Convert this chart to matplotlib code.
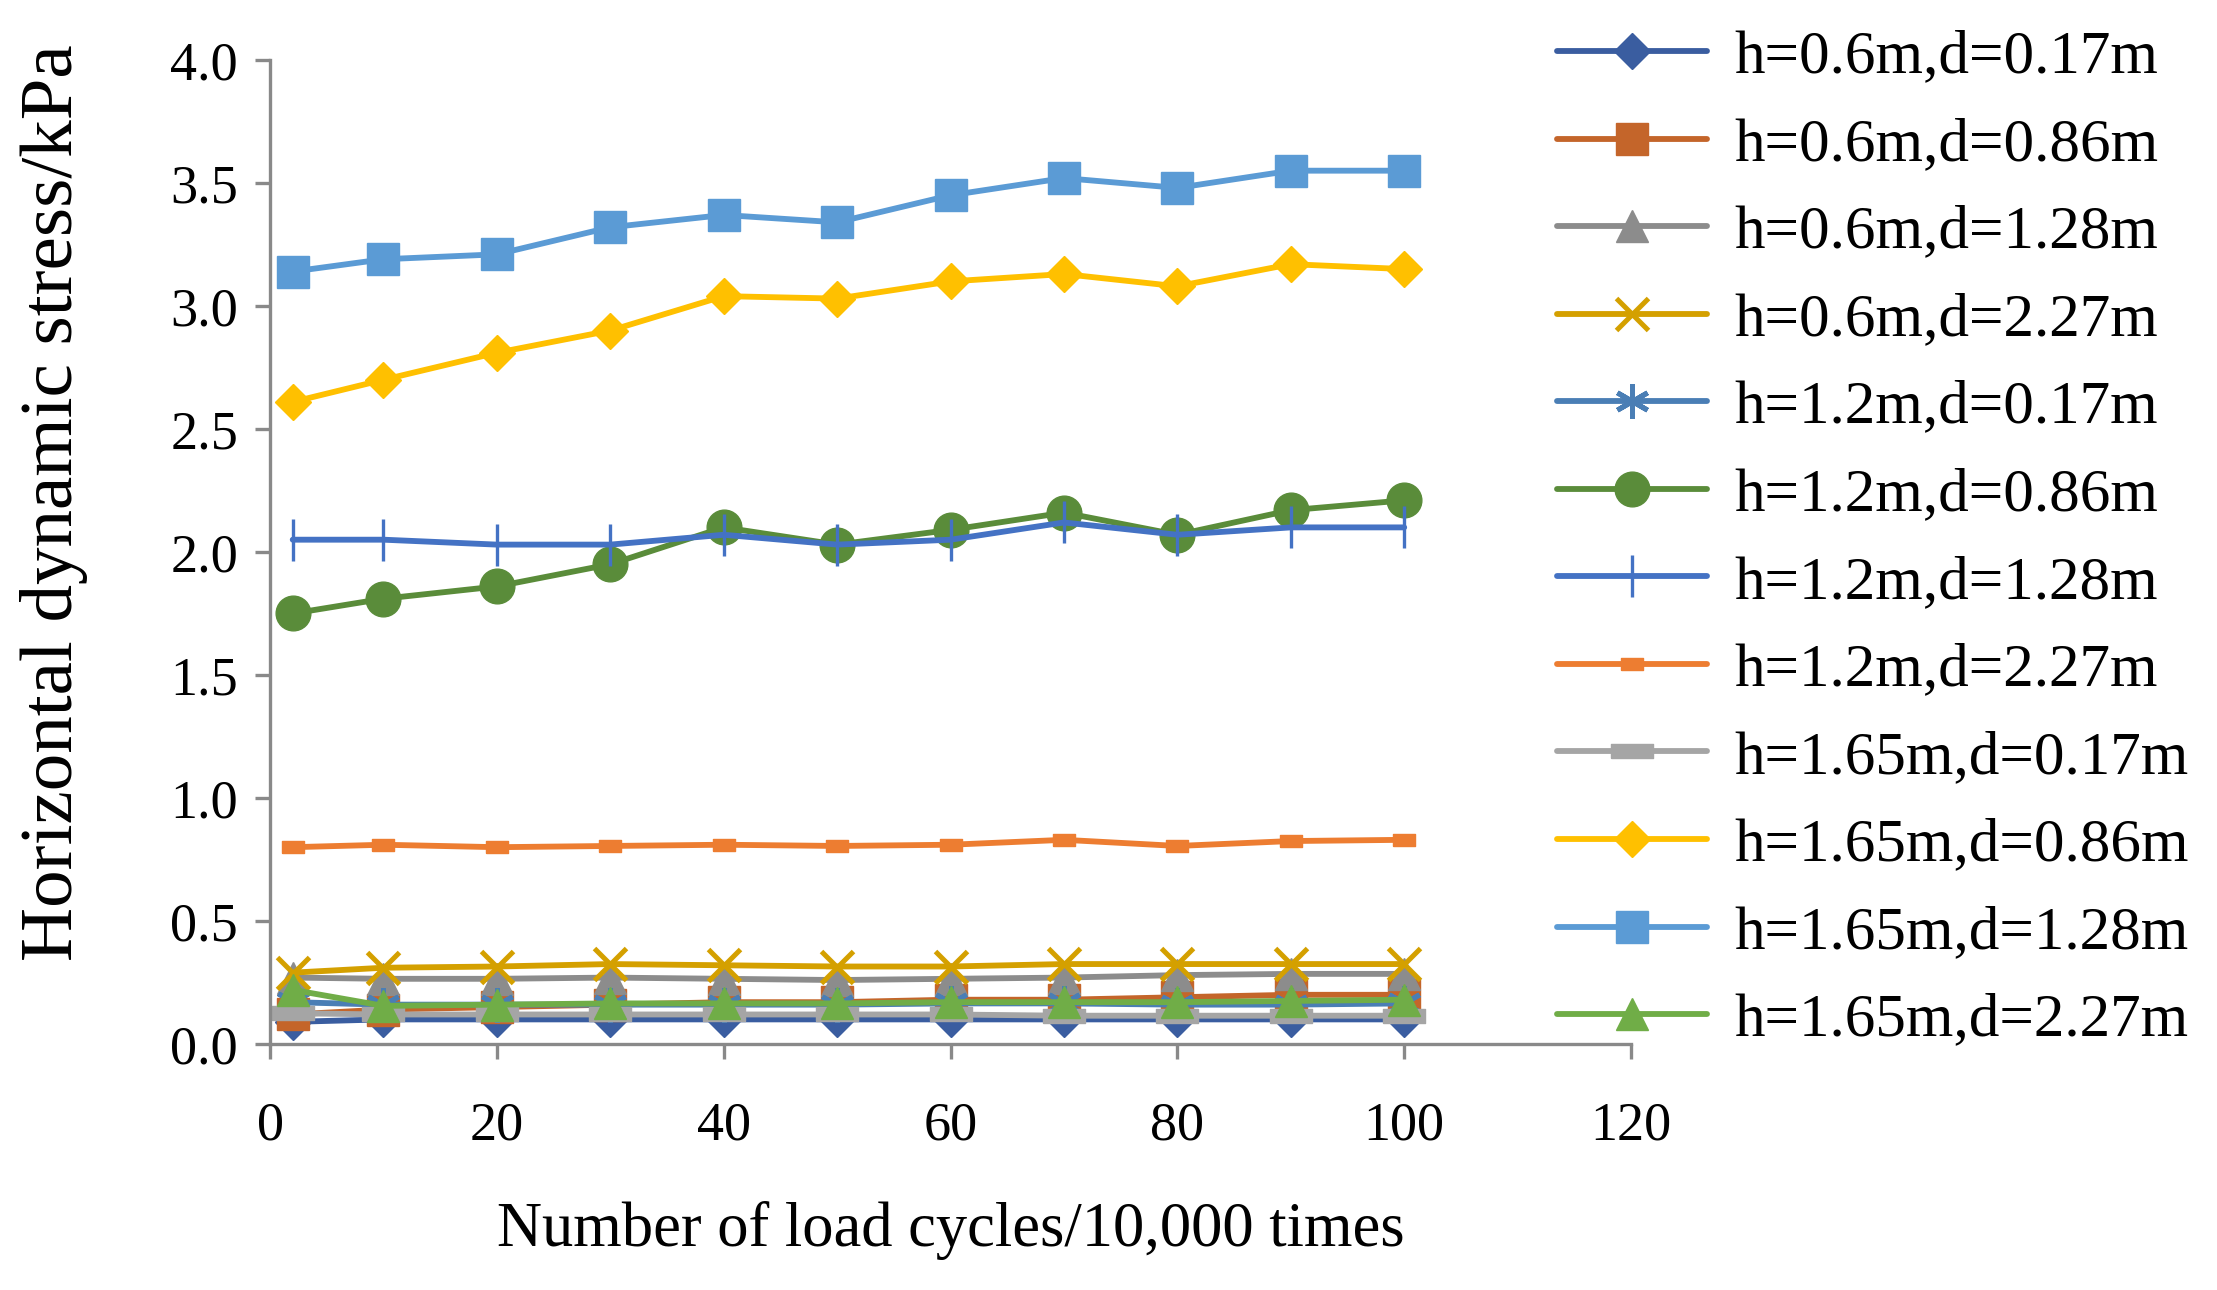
import matplotlib
matplotlib.use("Agg")
import matplotlib.pyplot as plt
import numpy as np

cycles = [2, 10, 20, 30, 40, 50, 60, 70, 80, 90, 100]

labels = ["h=0.6m,d=0.17m", "h=0.6m,d=0.86m", "h=0.6m,d=1.28m", "h=0.6m,d=2.27m",
          "h=1.2m,d=0.17m", "h=1.2m,d=0.86m", "h=1.2m,d=1.28m", "h=1.2m,d=2.27m",
          "h=1.65m,d=0.17m", "h=1.65m,d=0.86m", "h=1.65m,d=1.28m", "h=1.65m,d=2.27m"]

s_06_017 = [0.09, 0.10, 0.10, 0.10, 0.10, 0.10, 0.10, 0.10, 0.10, 0.10, 0.10]
s_06_086 = [0.12, 0.14, 0.15, 0.16, 0.17, 0.17, 0.18, 0.18, 0.19, 0.20, 0.20]
s_06_128 = [0.27, 0.265, 0.265, 0.27, 0.265, 0.26, 0.265, 0.27, 0.28, 0.285, 0.285]
s_06_227 = [0.29, 0.31, 0.315, 0.325, 0.32, 0.315, 0.315, 0.325, 0.325, 0.325, 0.325]
s_12_017 = [0.17, 0.16, 0.16, 0.16, 0.16, 0.16, 0.165, 0.165, 0.16, 0.16, 0.165]
s_12_086 = [1.75, 1.81, 1.86, 1.95, 2.10, 2.03, 2.09, 2.16, 2.07, 2.17, 2.21]
s_12_128 = [2.05, 2.05, 2.03, 2.03, 2.07, 2.03, 2.05, 2.12, 2.07, 2.10, 2.10]
s_12_227 = [0.80, 0.81, 0.80, 0.805, 0.81, 0.805, 0.81, 0.83, 0.805, 0.825, 0.83]
s_165_017 = [0.125, 0.12, 0.12, 0.12, 0.12, 0.12, 0.12, 0.115, 0.115, 0.115, 0.115]
s_165_086 = [2.61, 2.70, 2.81, 2.90, 3.04, 3.03, 3.10, 3.13, 3.08, 3.17, 3.15]
s_165_128 = [3.14, 3.19, 3.21, 3.32, 3.37, 3.34, 3.45, 3.52, 3.48, 3.55, 3.55]
s_165_227 = [0.22, 0.155, 0.16, 0.165, 0.165, 0.165, 0.17, 0.17, 0.17, 0.175, 0.18]

series = [s_06_017, s_06_086, s_06_128, s_06_227, s_12_017, s_12_086,
          s_12_128, s_12_227, s_165_017, s_165_086, s_165_128, s_165_227]

colors = ["#3A5DA0", "#C4652A", "#8C8C8C", "#D4A000", "#4A7EB5", "#5A8C3A",
          "#4472C4", "#ED7D31", "#A5A5A5", "#FFC000", "#5B9BD5", "#70AD47"]

dash_small = [(-1, -0.55), (1, -0.55), (1, 0.55), (-1, 0.55), (-1, -0.55)]
dash_wide = [(-1, -0.33), (1, -0.33), (1, 0.33), (-1, 0.33), (-1, -0.33)]

styles = [
    dict(marker="D", ms=18),
    dict(marker="s", ms=23),
    dict(marker="^", ms=23),
    dict(marker="x", ms=23, mew=3.6),
    dict(marker=(6, 2, 0), ms=25, mew=3.6),
    dict(marker="o", ms=25),
    dict(marker="|", ms=30, mew=2.4),
    dict(marker=dash_small, ms=16),
    dict(marker=dash_wide, ms=30),
    dict(marker="D", ms=18),
    dict(marker="s", ms=23),
    dict(marker="^", ms=23),
]

plt.rcParams['font.family'] = ['Liberation Serif', 'DejaVu Serif']

fig = plt.figure(figsize=(22.17, 12.90), dpi=100)
ax = fig.add_axes([0.1218, 0.1907, 0.6139, 0.7628])

for y, lab, c, st in zip(series, labels, colors, styles):
    ax.plot(cycles, y, color=c, lw=4.2, label=lab, mfc=c, mec=c,
            solid_capstyle="round", **st)

ax.set_xlim(0, 120)
ax.set_ylim(0, 4.0)
ax.set_xticks(np.arange(0, 121, 20))
ax.set_yticks(np.arange(0, 4.01, 0.5))
ax.yaxis.set_major_formatter(matplotlib.ticker.FormatStrFormatter("%.1f"))
for sp in ["top", "right"]:
    ax.spines[sp].set_visible(False)
for sp in ["left", "bottom"]:
    ax.spines[sp].set_color("#898989")
    ax.spines[sp].set_linewidth(2.4)
ax.tick_params(axis="both", direction="out", length=11, width=2.4, color="#898989",
               labelsize=39, pad=12)
ax.tick_params(axis="x", pad=30)
ax.set_xlabel("Number of load cycles/10,000 times", fontsize=45, labelpad=36)
ax.set_ylabel("Horizontal dynamic stress/kPa", fontsize=54)
ax.yaxis.set_label_coords(-0.134, 0.55)

fig.legend(loc="upper left", bbox_to_anchor=(0.6915, 0.996), frameon=False,
           fontsize=44, handlelength=2.45, handletextpad=0.45, labelspacing=0.52,
           borderaxespad=0)

fig.savefig("out.png", dpi=100)
